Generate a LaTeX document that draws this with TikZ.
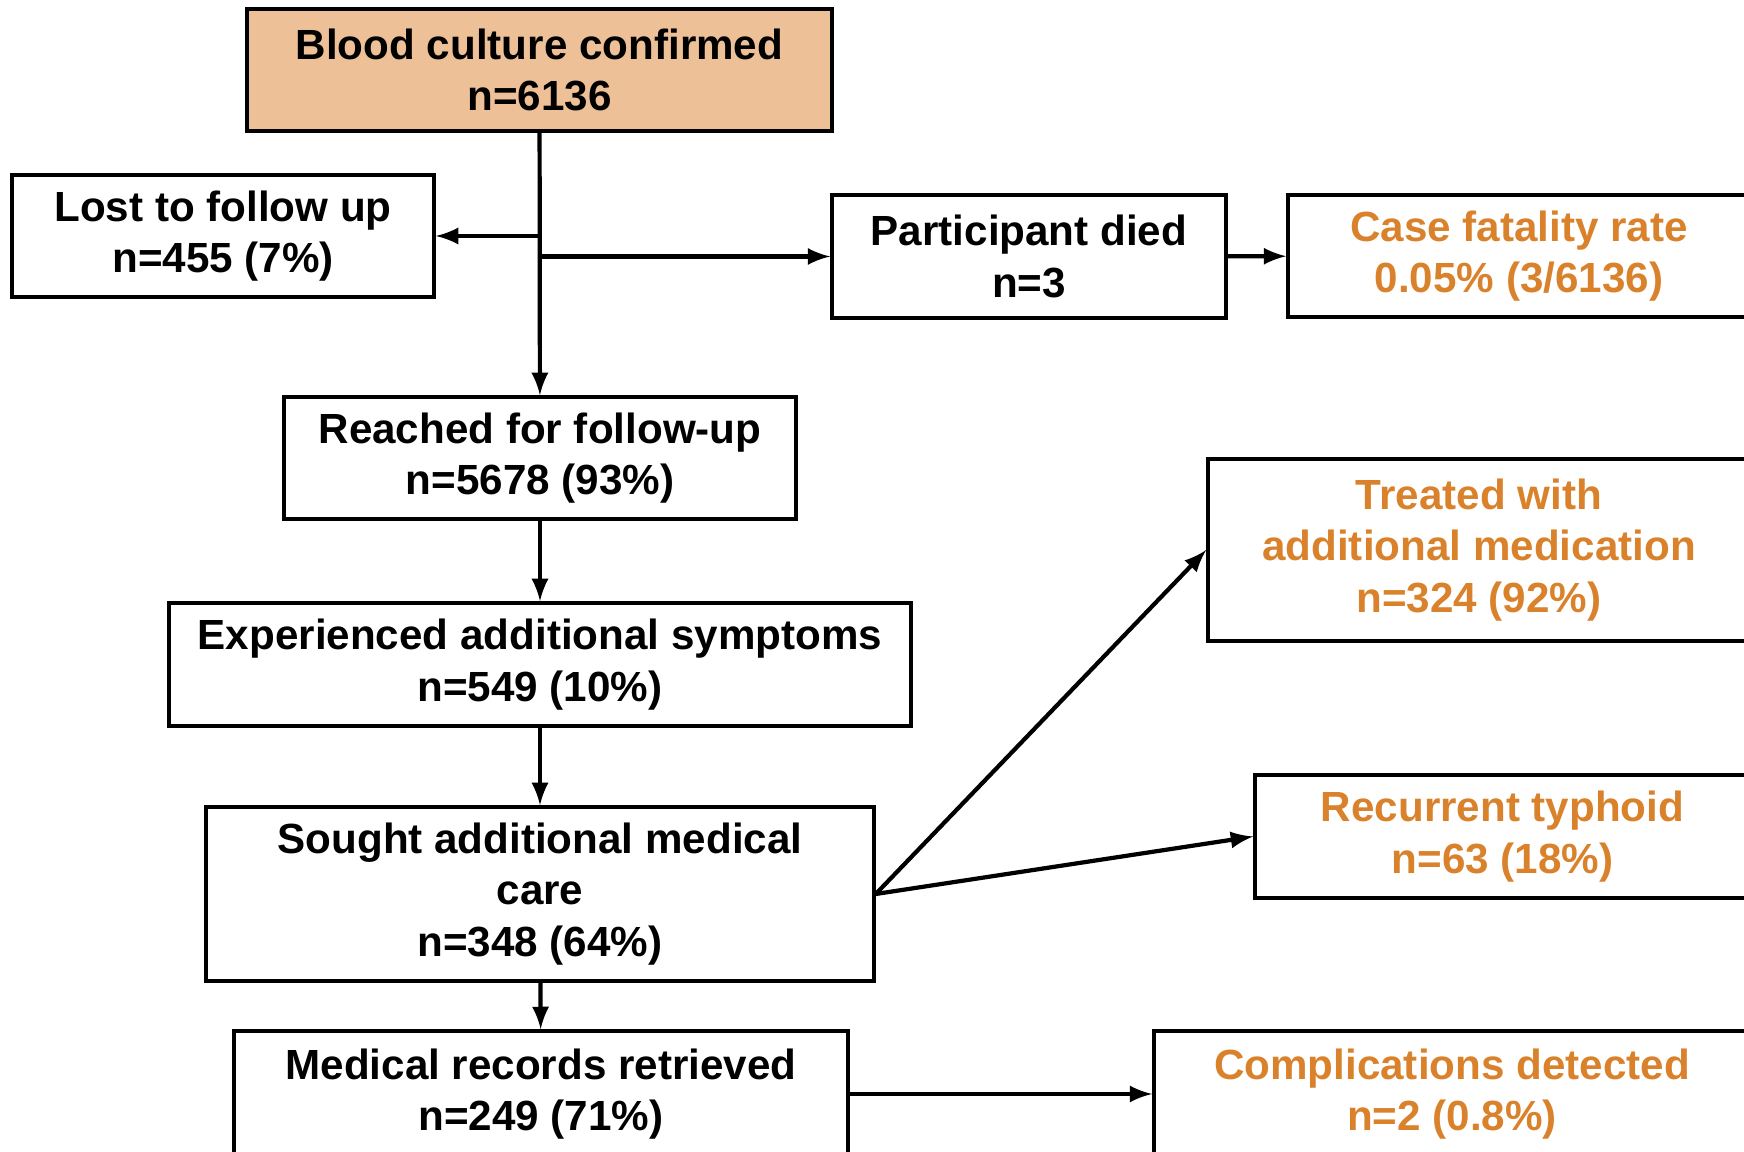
\documentclass[tikz,border=0pt]{standalone}
\usepackage{fontspec}
\setmainfont{Liberation Sans}
\usepackage{tikz}
\usetikzlibrary{arrows,calc,positioning}
\definecolor{startfill}{HTML}{EDC097}
\definecolor{outcome}{HTML}{D9822B}
\tikzset{
        block/.style = {draw, rectangle, line width=1pt, align=center,
            inner sep=0pt,
            font=\fontsize{12}{14.6}\selectfont\bfseries},
        start/.style = {block, fill=startfill},
        result/.style = {block, text=outcome},
        arrow/.style={draw, -latex, line width=1.2pt},
    }

\begin{document}
\begin{tikzpicture}[x=0.1mm,y=-0.1mm]
                        \useasboundingbox (0,0) rectangle (1744,1152);
                        \clip (0,0) rectangle (1744,1152);

                        \node[start, minimum width=58.5mm, minimum height=12.2mm] (blood) at (539.5,70)
                              {Blood culture confirmed\\n=6136};
                        \node[block, minimum width=42.2mm, minimum height=12.2mm] (lost) at (223,236)
                              {Lost to follow up\\n=455 (7\%)};
                        \node[block, minimum width=39.4mm, minimum height=12.3mm] (died) at (1029,256.5)
                              {Participant died\\n=3};
                        \node[result, minimum width=46.2mm, minimum height=12.2mm] (cfr) at (1519,256)
                              {Case fatality rate\\0.05\% (3/6136)};

                        \node[block, minimum width=51.2mm, minimum height=12.2mm] (reached) at (540,458)
                              {Reached for follow-up\\n=5678 (93\%)};
                        \node[block, minimum width=74.2mm, minimum height=12.3mm] (symptoms) at (540,664.5)
                              {Experienced additional symptoms\\n=549 (10\%)};
                        \node[block, minimum width=66.8mm, minimum height=17.4mm] (sought) at (540,894)
                              {Sought additional medical\\care\\n=348 (64\%)};
                        \node[block, minimum width=61.4mm, minimum height=12.6mm] (records) at (541,1094)
                              {Medical records retrieved\\n=249 (71\%)};

                        %\node[result] (treated) [right=of sought] {};
                        \node[result, minimum width=54.2mm, minimum height=18.2mm] (treated) at (1479,550)
                              {Treated with\\additional medication\\n=324 (92\%)};
                        \node[result, minimum width=49.5mm, minimum height=12.3mm] (recurrent) at (1502.5,836.5)
                              {Recurrent typhoid\\n=63 (18\%)};
                        \node[result, minimum width=59.6mm, minimum height=12.6mm] (complications) at (1452,1094)
                              {Complications detected\\n=2 (0.8\%)};

                        \draw[arrow] (blood) -- (reached);
                        \draw[arrow] (blood.south |- lost.east) -- (lost.east);
                        \draw[arrow] (blood.south |- died.west) -- (died.west);
                        \draw[arrow] (died) -- (cfr);

                        \draw[arrow] (reached) -- (symptoms);
                        \draw[arrow] (symptoms) -- (sought);
                        \draw[arrow] (sought) -- (records);

                        \draw[arrow] (sought.east) -- (treated.west);
                        \draw[arrow] (sought.east) -- (recurrent.west);
                        \draw[arrow] (records) -- (complications);
                \end{tikzpicture}
\end{document}
